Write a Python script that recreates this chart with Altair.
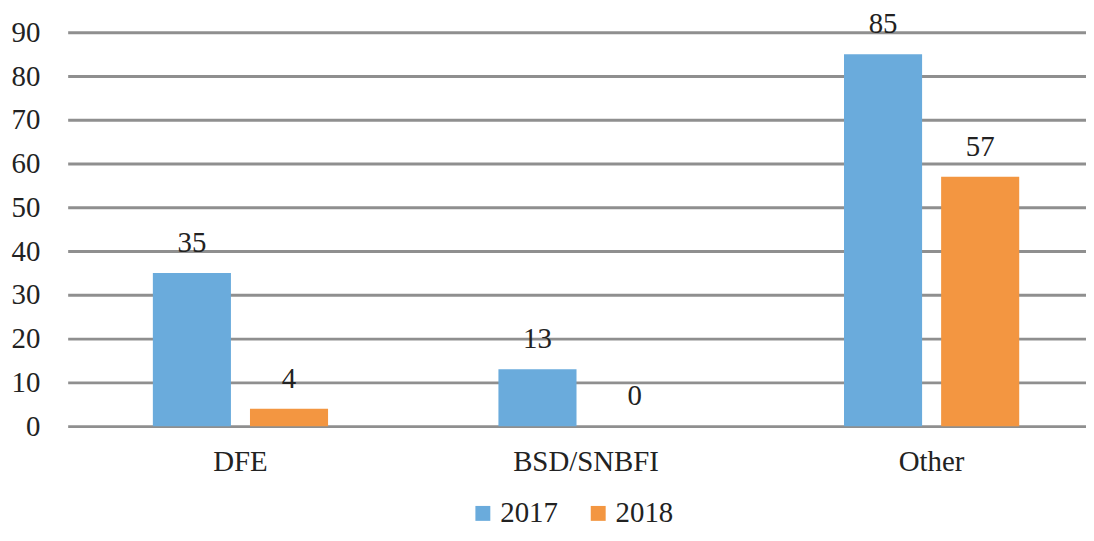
import altair as alt
import pandas as pd

categories = ["DFE", "BSD/SNBFI", "Other"]
values_2017 = [35, 13, 85]
values_2018 = [4, 0, 57]
years = ["2017", "2018"]
colors = ["#6aabdc", "#f39641"]

rows = []
for i, c in enumerate(categories):
    rows.append({"category": c, "year": "2017", "value": values_2017[i]})
    rows.append({"category": c, "year": "2018", "value": values_2018[i]})
df = pd.DataFrame(rows)

FONT = "Liberation Serif"
FS = 29
TXT = "#222222"

x = alt.X("category:N", sort=categories, title=None,
          scale=alt.Scale(range=[0, 1042.5], paddingInner=0.493, paddingOuter=0.2465, round=False),
          axis=alt.Axis(domain=False, ticks=False, labelPadding=22, labelFont=FONT,
                        labelFontSize=FS, labelColor=TXT, labelAngle=0))
xo = alt.XOffset("year:N", sort=years, scale=alt.Scale(paddingInner=0.196, paddingOuter=0))
y = alt.Y("value:Q", title=None,
          scale=alt.Scale(domain=[0, 90], nice=False),
          axis=alt.Axis(values=list(range(0, 100, 10)), domain=False, ticks=False,
                        grid=True, gridColor="#8f8f8f", gridWidth=3,
                        labelPadding=28, labelFont=FONT, labelFontSize=FS, labelColor=TXT))

base = alt.Chart(df)
bars = base.mark_bar().encode(
    x=x, xOffset=xo, y=y,
    color=alt.Color("year:N", sort=years, scale=alt.Scale(domain=years, range=colors),
                    legend=alt.Legend(title=None, orient="none", legendX=403, legendY=469,
                                      direction="horizontal", symbolType="square",
                                      symbolSize=225, symbolStrokeWidth=0, labelFont=FONT,
                                      labelFontSize=FS, labelColor=TXT, labelOffset=3,
                                      columnPadding=26)),
)
labels = base.mark_text(font=FONT, fontSize=FS, color=TXT, baseline="alphabetic", dy=-21).encode(
    x=x, xOffset=xo, y=y, text=alt.Text("value:Q")
)

chart = alt.layer(bars, labels).properties(
    width=1024, height=396,
    autosize=alt.AutoSizeParams(type="none"),
    padding={"left": 60, "top": 23, "right": 0, "bottom": 106},
).configure_view(stroke=None)

chart.save("out.html", embed_options={"renderer": "svg", "actions": False})
